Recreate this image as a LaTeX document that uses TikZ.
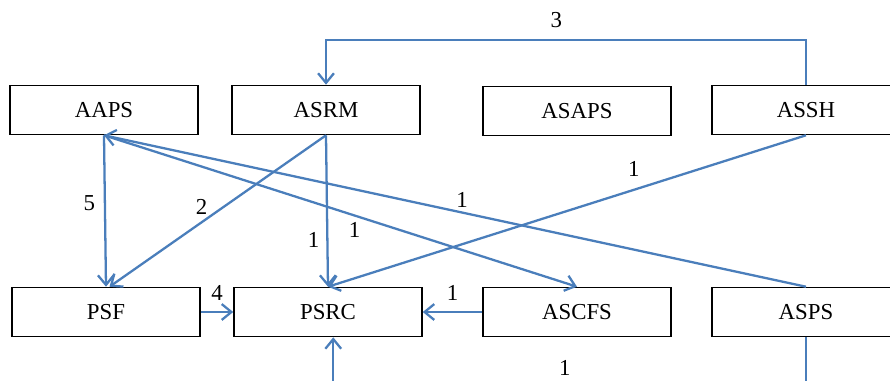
\documentclass[tikz,border=0pt]{standalone}
\usepackage{fontspec}
\setmainfont{Liberation Serif}
\usepackage{tikz}
\usetikzlibrary{arrows.meta,positioning}
\definecolor{linkblue}{RGB}{74,126,187}

\begin{document}
\begin{tikzpicture}[x=0.02cm, y=-0.02cm, >={Straight Barb[length=5.5pt,width=9pt]},
    box/.style={draw, line width=0.9pt, minimum width=3.76cm, minimum height=0.98cm, inner sep=0pt, font=\fontsize{13}{15}\selectfont},
    link/.style={->, draw=linkblue, line width=1.3pt},
    lbl/.style={font=\fontsize{13}{15}\selectfont, inner sep=1pt}]
    \useasboundingbox (0,0) rectangle (890,380);
    \clip (0,0) rectangle (890,380);

    % Top row
    \node[box] (AAPS) at (104,110) {AAPS};
    \node[box] (ASRM) at (326,110) {ASRM};
    \node[box] (ASAPS) at (577,111) {ASAPS};
    \node[box] (ASSH) at (806,110) {ASSH};

    % Bottom row
    \node[box] (PSF) at (106,312) {PSF};
    \node[box] (PSRC) at (328,312) {PSRC};
    \node[box] (ASCFS) at (577,312) {ASCFS};
    \node[box] (ASPS) at (806,312) {ASPS};

    % Arrows
    \draw[link] (ASSH.north) -- ++(0,-45) -| node[lbl, pos=.26, above=5pt] {3} (ASRM.north);
    \draw[link] (AAPS.south) -- (PSF.north) node[lbl, pos=.45, left=4pt] {5};
    \draw[link] (ASRM.south) -- ([xshift=2pt]PSF.north) node[lbl, pos=.47, left=8pt] {2};
    \draw[link] (ASRM.south) -- (PSRC.north) node[lbl, pos=.69, left=3pt] {1};
    \draw[link] (AAPS.south) -- (ASCFS.north) node[lbl, pos=.53, below=2pt] {1};
    \draw[link] (ASPS.north) -- (AAPS.south) node[lbl, pos=.49, above=1pt] {1};
    \draw[link] (ASSH.south) -- (PSRC.north) node[lbl, pos=.36, above=6pt] {1};
    \draw[link] (PSF.east) -- (PSRC.west) node[lbl, midway, above=5pt] {4};
    \draw[link] (ASCFS.west) -- (PSRC.east) node[lbl, midway, above=5pt] {1};
    \draw[link] (ASPS.south) -- ++(0,55) -| node[lbl, pos=.255, above=8pt] {1} ([xshift=3pt]PSRC.south);
\end{tikzpicture}
\end{document}
